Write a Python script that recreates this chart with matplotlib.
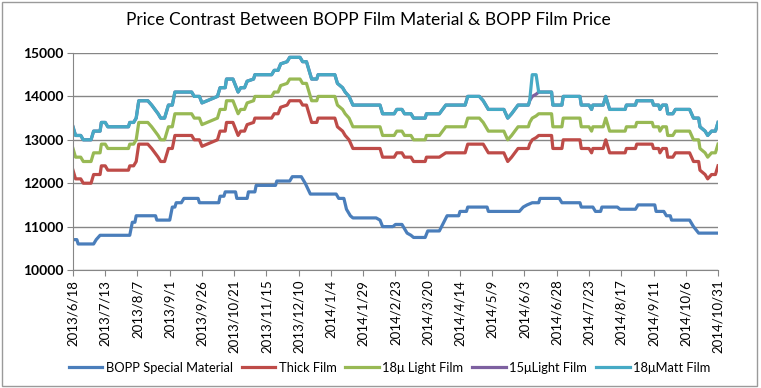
import numpy as np
import matplotlib
matplotlib.use("Agg")
import matplotlib.pyplot as plt
from matplotlib.patches import Rectangle

plt.rcParams['font.family'] = ['Lato', 'DejaVu Sans']

# day offsets from 2013/6/18 where the film prices change
start = np.datetime64('2013-06-18')
film_days = [0, 2, 6, 8, 14, 16, 21, 22, 25, 27, 43, 44, 47, 49, 51, 58, 61, 66, 68, 71,
             74, 77, 79, 92, 94, 98, 100, 112, 114, 118, 119, 124, 126, 128, 130, 133, 135, 140, 141, 154,
             156, 159, 161, 166, 168, 176, 178, 181, 183, 185, 189, 190, 203, 205, 209, 211, 214, 217, 238, 240,
             249, 251, 255, 257, 262, 264, 273, 274, 284, 289, 304, 306, 315, 318, 322, 334, 337, 340, 345, 353,
             354, 356, 359, 361, 371, 372, 379, 380, 393, 394, 400, 402, 403, 411, 413, 416, 428, 429, 436, 437,
             449, 450, 454, 455, 457, 460, 461, 465, 467, 478, 481, 485, 486, 490, 492, 495, 498, 500]

matt18 = [13300, 13100, 13100, 13000, 13000, 13200, 13200, 13400, 13400, 13300, 13300, 13400, 13400, 13500, 13900, 13900, 13800, 13600, 13500, 13500,
          13800, 13800, 14100, 14100, 14000, 14000, 13850, 14000, 14200, 14200, 14400, 14400, 14250, 14100, 14200, 14200, 14350, 14400, 14500, 14500,
          14600, 14600, 14750, 14800, 14900, 14900, 14800, 14800, 14600, 14400, 14400, 14500, 14500, 14300, 14200, 14100, 14000, 13800, 13800, 13600,
          13600, 13700, 13700, 13600, 13600, 13500, 13500, 13600, 13600, 13800, 13800, 14000, 14000, 13900, 13700, 13700, 13500, 13600, 13800, 13800,
          13900, 14500, 14500, 14100, 14100, 13800, 13800, 14000, 14000, 13800, 13800, 13700, 13800, 13800, 14000, 13700, 13700, 13800, 13800, 13900,
          13900, 13800, 13800, 13700, 13800, 13800, 13600, 13600, 13700, 13700, 13500, 13500, 13300, 13200, 13100, 13200, 13200, 13400]

light15 = [13300, 13100, 13100, 13000, 13000, 13200, 13200, 13400, 13400, 13300, 13300, 13400, 13400, 13500, 13900, 13900, 13800, 13600, 13500, 13500,
           13800, 13800, 14100, 14100, 14000, 14000, 13850, 14000, 14200, 14200, 14400, 14400, 14250, 14100, 14200, 14200, 14350, 14400, 14500, 14500,
           14600, 14600, 14750, 14800, 14900, 14900, 14800, 14800, 14600, 14400, 14400, 14500, 14500, 14300, 14200, 14100, 14000, 13800, 13800, 13600,
           13600, 13700, 13700, 13600, 13600, 13500, 13500, 13600, 13600, 13800, 13800, 14000, 14000, 13900, 13700, 13700, 13500, 13600, 13800, 13800,
           13900, 14000, 14050, 14100, 14100, 13800, 13800, 14000, 14000, 13800, 13800, 13700, 13800, 13800, 14000, 13700, 13700, 13800, 13800, 13900,
           13900, 13800, 13800, 13700, 13800, 13800, 13600, 13600, 13700, 13700, 13500, 13500, 13300, 13200, 13100, 13200, 13200, 13400]

light18 = [12800, 12600, 12600, 12500, 12500, 12700, 12700, 12900, 12900, 12800, 12800, 12900, 12900, 13000, 13400, 13400, 13300, 13100, 13000, 13000,
           13300, 13300, 13600, 13600, 13500, 13500, 13350, 13500, 13700, 13700, 13900, 13900, 13750, 13600, 13700, 13700, 13850, 13900, 14000, 14000,
           14100, 14100, 14250, 14300, 14400, 14400, 14300, 14300, 14100, 13900, 13900, 14000, 14000, 13800, 13700, 13600, 13500, 13300, 13300, 13100,
           13100, 13200, 13200, 13100, 13100, 13000, 13000, 13100, 13100, 13300, 13300, 13500, 13500, 13400, 13200, 13200, 13000, 13100, 13300, 13300,
           13400, 13500, 13550, 13600, 13600, 13300, 13300, 13500, 13500, 13300, 13300, 13200, 13300, 13300, 13500, 13200, 13200, 13300, 13300, 13400,
           13400, 13300, 13300, 13200, 13300, 13300, 13100, 13100, 13200, 13200, 13000, 13000, 12800, 12700, 12600, 12700, 12700, 12900]

thick = [12300, 12100, 12100, 12000, 12000, 12200, 12200, 12400, 12400, 12300, 12300, 12400, 12400, 12500, 12900, 12900, 12800, 12600, 12500, 12500,
         12800, 12800, 13100, 13100, 13000, 13000, 12850, 13000, 13200, 13200, 13400, 13400, 13250, 13100, 13200, 13200, 13350, 13400, 13500, 13500,
         13600, 13600, 13750, 13800, 13900, 13900, 13800, 13800, 13600, 13400, 13400, 13500, 13500, 13300, 13200, 13100, 13000, 12800, 12800, 12600,
         12600, 12700, 12700, 12600, 12600, 12500, 12500, 12600, 12600, 12700, 12700, 12900, 12900, 12900, 12700, 12700, 12500, 12600, 12800, 12800,
         12900, 13000, 13050, 13100, 13100, 12800, 12800, 13000, 13000, 12800, 12800, 12700, 12800, 12800, 13000, 12700, 12700, 12800, 12800, 12900,
         12900, 12800, 12800, 12700, 12800, 12800, 12600, 12600, 12700, 12700, 12500, 12500, 12300, 12200, 12100, 12200, 12200, 12400]

# BOPP special material (raw material) price
mat_days = [0, 3, 4, 16, 18, 21, 44, 46, 48, 49, 64, 65, 75, 77, 79, 80, 84, 86, 97, 98,
            113, 114, 117, 118, 126, 127, 135, 136, 141, 142, 157, 158, 168, 170, 177, 180, 184, 204, 206, 210,
            212, 215, 217, 235, 238, 240, 248, 250, 255, 257, 259, 262, 264, 273, 275, 284, 290, 299, 300, 305,
            306, 321, 322, 346, 349, 352, 356, 361, 362, 377, 379, 393, 394, 403, 405, 409, 410, 422, 424, 436,
            438, 451, 452, 458, 460, 463, 464, 478, 481, 485, 500]
material = [10700, 10700, 10600, 10600, 10700, 10800, 10800, 11100, 11100, 11250, 11250, 11150, 11150, 11450, 11450, 11550, 11550, 11650, 11650, 11550,
            11550, 11700, 11700, 11800, 11800, 11650, 11650, 11800, 11800, 11950, 11950, 12050, 12050, 12150, 12150, 12000, 11750, 11750, 11650, 11650,
            11400, 11250, 11200, 11200, 11150, 11000, 11000, 11050, 11050, 10950, 10850, 10800, 10750, 10750, 10900, 10900, 11250, 11250, 11350, 11350,
            11450, 11450, 11350, 11350, 11450, 11500, 11550, 11550, 11650, 11650, 11550, 11550, 11450, 11450, 11350, 11350, 11450, 11450, 11400, 11400,
            11500, 11500, 11350, 11350, 11250, 11250, 11150, 11150, 11000, 10850, 10850]

labels = ['BOPP Special Material', 'Thick Film', '18\u03bc Light Film', '15\u03bcLight Film', '18\u03bcMatt Film']
colors = ['#4A7EBB', '#BE4B48', '#98B954', '#7D60A0', '#46AAC5']

film_x = start + np.array(film_days)
mat_x = start + np.array(mat_days)

fig = plt.figure(figsize=(7.61, 3.88), dpi=100)
ax = fig.add_axes([0.0959, 0.3041, 0.8476, 0.5593])

series = [(mat_x, material), (film_x, thick), (film_x, light18), (film_x, light15), (film_x, matt18)]
for (x, y), lab, c in zip(series, labels, colors):
    ax.plot(x, y, color=c, lw=2.3, label=lab, solid_joinstyle='round')

ax.set_xlim(start, start + 500)
ax.set_ylim(10000, 15000)
ax.set_yticks(np.arange(10000, 15001, 1000))
ax.yaxis.grid(True, color='#868686', lw=1)
ax.set_axisbelow(True)

tick_dates = start + np.arange(0, 501, 25)
tick_labels = []
for d in tick_dates.astype(object):
    tick_labels.append(f"{d.year}/{d.month}/{d.day}")
ax.set_xticks(tick_dates)
ax.set_xticklabels(tick_labels, rotation=90, fontsize=9.5)
for t in ax.get_yticklabels():
    t.set_fontweight('bold')
ax.tick_params(axis='y', labelsize=10, length=4, color='#868686', pad=3)
ax.tick_params(axis='x', length=4, color='#868686', pad=3)

for s in ['top', 'right']:
    ax.spines[s].set_visible(False)
for s in ['left', 'bottom']:
    ax.spines[s].set_color('#868686')

fig.suptitle('Price Contrast Between BOPP Film Material & BOPP Film Price',
             x=0.484, y=0.97, fontsize=12.5)

fig.legend(loc='center', bbox_to_anchor=(0.512, 0.052), ncol=5, frameon=False,
           fontsize=9.3, handlelength=2.6, columnspacing=0.7, handletextpad=0.25)

fig.patches.append(Rectangle((0.002, 0.004), 0.993, 0.992, transform=fig.transFigure,
                             fill=False, edgecolor='#9a9a9a', lw=1))

fig.savefig('out.png', dpi=100)
